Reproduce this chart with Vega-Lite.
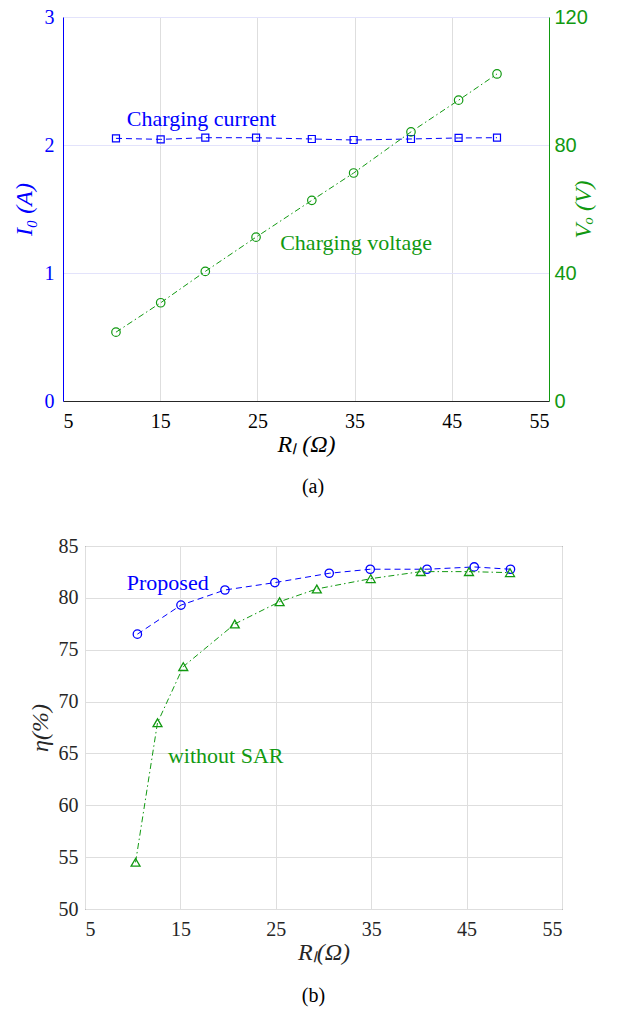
{
  "$schema": "https://vega.github.io/schema/vega-lite/v6.json",
  "background": "white",
  "padding": {"left": 12, "top": 7, "right": 4, "bottom": 0},
  "spacing": 38,
  "config": {
    "font": "Liberation Serif",
    "axis": {
      "labelFont": "Liberation Serif",
      "titleFont": "Liberation Serif",
      "labelFontSize": 20,
      "titleFontSize": 24,
      "titleFontWeight": "normal",
      "ticks": false,
      "tickSize": 0,
      "labelColor": "#262626",
      "titleColor": "#262626",
      "domainColor": "#262626",
      "gridColor": "#dedede",
      "gridOpacity": 1
    },
    "title": {"font": "Liberation Serif", "fontSize": 20, "fontWeight": "normal", "color": "#000000"}
  },
  "datasets": {
    "current": [
      {"R": 10.45, "I": 2.052}, {"R": 15.05, "I": 2.044}, {"R": 19.64, "I": 2.057},
      {"R": 24.86, "I": 2.057}, {"R": 30.6, "I": 2.047}, {"R": 34.9, "I": 2.039},
      {"R": 40.8, "I": 2.047}, {"R": 45.7, "I": 2.055}, {"R": 49.65, "I": 2.057}
    ],
    "voltage": [
      {"R": 10.45, "V": 21.5}, {"R": 15.05, "V": 30.7}, {"R": 19.64, "V": 40.5},
      {"R": 24.86, "V": 51.2}, {"R": 30.6, "V": 62.7}, {"R": 34.9, "V": 71.25},
      {"R": 40.8, "V": 84.1}, {"R": 45.7, "V": 94.0}, {"R": 49.65, "V": 102.2}
    ],
    "proposed": [
      {"R": 10.49, "eta": 76.5}, {"R": 15.06, "eta": 79.3}, {"R": 19.67, "eta": 80.76},
      {"R": 24.9, "eta": 81.47}, {"R": 30.6, "eta": 82.37}, {"R": 34.9, "eta": 82.76},
      {"R": 40.85, "eta": 82.76}, {"R": 45.8, "eta": 82.98}, {"R": 49.6, "eta": 82.76}
    ],
    "withoutSAR": [
      {"R": 10.3, "eta": 54.5}, {"R": 12.6, "eta": 67.96}, {"R": 15.3, "eta": 73.37},
      {"R": 20.7, "eta": 77.48}, {"R": 25.4, "eta": 79.63}, {"R": 29.3, "eta": 80.86},
      {"R": 34.95, "eta": 81.85}, {"R": 40.2, "eta": 82.53}, {"R": 45.25, "eta": 82.53},
      {"R": 49.55, "eta": 82.43}
    ]
  },
  "vconcat": [
    {
      "width": 464,
      "height": 384,
      "view": {"stroke": null},
      "title": {"text": "(a)", "orient": "bottom", "offset": 21, "dx": -4},
      "encoding": {
        "x": {
          "field": "R", "type": "quantitative",
          "scale": {"domain": [5, 55], "range": [-22, 464], "nice": false, "zero": false},
          "axis": {
            "values": [5, 15, 25, 35, 45, 55], "title": "Rₗ  (Ω)", "titleFontStyle": "italic",
            "labelPadding": 10, "titlePadding": 1, "grid": true,
            "labelColor": "#000000", "titleColor": "#000000", "domainColor": "#262626"
          }
        }
      },
      "layer": [
        {
          "data": {"name": "current"},
          "encoding": {
            "y": {
              "field": "I", "type": "quantitative",
              "scale": {"domain": [0, 3], "nice": false},
              "axis": {
                "values": [0, 1, 2, 3], "title": "I₀  (A)", "titleFontStyle": "italic",
                "offset": 22, "labelPadding": 9, "titlePadding": 8, "grid": true,
                "gridColor": "#e3e3fb", "domainColor": "#0000ff",
                "labelColor": "#0000ff", "titleColor": "#0000ff"
              }
            }
          },
          "layer": [
            {"mark": {"type": "line", "color": "#0000ff", "strokeDash": [6, 4], "strokeWidth": 1}},
            {"mark": {"type": "point", "shape": "square", "size": 49, "filled": false, "color": "#0000ff", "strokeWidth": 1.2, "opacity": 1}},
            {
              "data": {"values": [{"R": 19.25, "I": 2.2, "label": "Charging current"}]},
              "mark": {"type": "text", "font": "Liberation Serif", "fontSize": 22, "color": "#0000ff", "align": "center", "baseline": "middle"},
              "encoding": {"text": {"field": "label"}}
            },
            {
              "data": {"values": [{}]},
              "mark": {"type": "rule", "color": "#262626", "strokeWidth": 1},
              "encoding": {"x": {"datum": 5}, "x2": {"datum": 55}, "y": {"datum": 3}}
            }
          ]
        },
        {
          "data": {"name": "voltage"},
          "encoding": {
            "y": {
              "field": "V", "type": "quantitative",
              "scale": {"domain": [0, 120], "nice": false},
              "axis": {
                "orient": "right",
                "values": [0, 40, 80, 120], "title": "Vₒ  (V)", "titleFontStyle": "italic",
                "titleAngle": 270,
                "labelFont": "Liberation Sans", "labelPadding": 5, "titlePadding": 8, "grid": false,
                "domainColor": "#119911", "labelColor": "#119911", "titleColor": "#119911"
              }
            }
          },
          "layer": [
            {"mark": {"type": "line", "color": "#119911", "strokeDash": [6, 3, 1.5, 3], "strokeWidth": 1}},
            {"mark": {"type": "point", "shape": "circle", "size": 72, "filled": false, "color": "#119911", "strokeWidth": 1.2, "opacity": 1}},
            {
              "data": {"values": [{"R": 35.15, "V": 49.4, "label": "Charging voltage"}]},
              "mark": {"type": "text", "font": "Liberation Serif", "fontSize": 22, "color": "#119911", "align": "center", "baseline": "middle"},
              "encoding": {"text": {"field": "label"}}
            }
          ]
        }
      ],
      "resolve": {"scale": {"y": "independent"}}
    },
    {
      "width": 477,
      "height": 363,
      "view": {"stroke": "#262626"},
      "title": {"text": "(b)", "orient": "bottom", "offset": 22, "dx": -10},
      "encoding": {
        "x": {
          "field": "R", "type": "quantitative",
          "scale": {"domain": [5, 55], "nice": false, "zero": false},
          "axis": {
            "values": [5, 15, 25, 35, 45, 55], "title": "Rₗ(Ω)", "titleFontStyle": "italic",
            "labelPadding": 10, "titlePadding": 1, "grid": true, "domain": false
          }
        },
        "y": {
          "field": "eta", "type": "quantitative",
          "scale": {"domain": [50, 85], "nice": false, "zero": false},
          "axis": {
            "values": [50, 55, 60, 65, 70, 75, 80, 85], "title": "η(%)", "titleFontStyle": "italic",
            "labelPadding": 7, "titlePadding": 6, "grid": true, "domain": false
          }
        }
      },
      "layer": [
        {"data": {"name": "proposed"}, "mark": {"type": "line", "color": "#0000ff", "strokeDash": [6, 4], "strokeWidth": 1}},
        {"data": {"name": "proposed"}, "mark": {"type": "point", "shape": "circle", "size": 70, "filled": false, "color": "#0000ff", "strokeWidth": 1.3, "opacity": 1}},
        {"data": {"name": "withoutSAR"}, "mark": {"type": "line", "color": "#119911", "strokeDash": [6, 3, 1.5, 3], "strokeWidth": 1}},
        {"data": {"name": "withoutSAR"}, "mark": {"type": "point", "shape": "triangle-up", "size": 80, "filled": false, "color": "#119911", "strokeWidth": 1.3, "opacity": 1}},
        {
          "data": {"values": [{"R": 13.67, "eta": 81.4, "label": "Proposed"}]},
          "mark": {"type": "text", "font": "Liberation Serif", "fontSize": 22, "color": "#0000ff", "align": "center", "baseline": "middle"},
          "encoding": {"text": {"field": "label"}}
        },
        {
          "data": {"values": [{"R": 19.75, "eta": 64.78, "label": "without SAR"}]},
          "mark": {"type": "text", "font": "Liberation Serif", "fontSize": 22, "color": "#119911", "align": "center", "baseline": "middle"},
          "encoding": {"text": {"field": "label"}}
        }
      ]
    }
  ]
}
